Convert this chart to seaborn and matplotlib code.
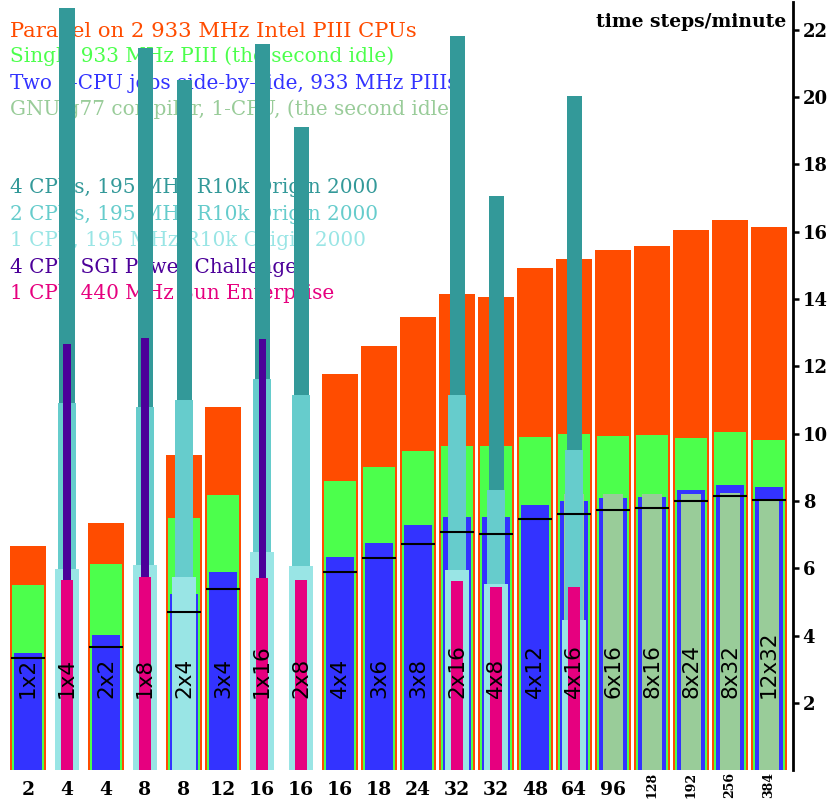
import numpy as np
import pandas as pd
import matplotlib
matplotlib.use("Agg")
import matplotlib.pyplot as plt
import seaborn as sns

nan = np.nan

# ---- data -------------------------------------------------------------
procs = ["2", "4", "4", "8", "8", "12", "16", "16", "16", "18",
         "24", "32", "32", "48", "64", "96", "128", "192", "256", "384"]
grids = ["1x2", "1x4", "2x2", "1x8", "2x4", "3x4", "1x16", "2x8", "4x4", "3x6",
         "3x8", "2x16", "4x8", "4x12", "4x16", "6x16", "8x16", "8x24", "8x32", "12x32"]

piii_parallel = [6.65, nan, 7.33, nan, 9.38, 10.80, nan, nan, 11.78, 12.61,
                 13.47, 14.15, 14.06, 14.92, 15.19, 15.45, 15.57, 16.04, 16.36, 16.13]
piii_single = [5.50, nan, 6.12, nan, 7.48, 8.19, nan, nan, 8.58, 9.02,
               9.47, 9.64, 9.64, 9.91, 10.00, 9.94, 9.97, 9.88, 10.06, 9.82]
piii_two_jobs = [3.48, nan, 4.01, nan, 5.23, 5.88, nan, nan, 6.33, 6.74,
                 7.27, 7.51, 7.51, 7.87, 8.01, 8.10, 8.13, 8.31, 8.46, 8.40]
g77_single = [nan, nan, nan, nan, nan, nan, nan, nan, nan, nan,
              nan, nan, nan, nan, 8.20, 8.20, 8.20, 8.22, 8.25, 7.99]
origin_4cpu = [nan, 22.66, nan, 21.47, 20.52, nan, 21.59, 19.10, nan, nan,
               nan, 21.83, 17.05, nan, 20.05, nan, nan, nan, nan, nan]
origin_2cpu = [nan, 10.92, nan, 10.80, 11.00, nan, 11.63, 11.16, nan, nan,
               nan, 11.16, 8.31, nan, 9.50, nan, nan, nan, nan, nan]
origin_1cpu = [nan, 5.97, nan, 6.09, 5.73, nan, 6.47, 6.06, nan, nan,
               nan, 5.94, 5.53, nan, 4.46, nan, nan, nan, nan, nan]
sgi_power = [nan, 12.67, nan, 12.84, nan, nan, 12.81, nan, nan, nan,
             nan, nan, nan, nan, nan, nan, nan, nan, nan, nan]
sun_1cpu = [nan, 5.64, nan, 5.73, nan, nan, 5.70, 5.64, nan, nan,
            nan, 5.62, 5.44, nan, 5.44, nan, nan, nan, nan, nan]
reference_marks = [3.33, nan, 3.66, nan, 4.70, 5.38, nan, nan, 5.88, 6.30,
                   6.71, 7.07, 7.01, 7.45, 7.60, 7.72, 7.78, 8.01, 8.16, 8.04]

legend_labels = ["Parallel on 2 933 MHz Intel PIII CPUs",
                 "Single 933 MHz PIII (the second idle)",
                 "Two 1-CPU jobs side-by-side, 933 MHz PIIIs",
                 "GNU g77 compiler, 1-CPU, (the second idle)",
                 "4 CPUs, 195 MHz R10k Origin 2000",
                 "2 CPUs, 195 MHz R10k Origin 2000",
                 "1 CPU, 195 MHz R10k Origin 2000",
                 "4 CPU SGI Power Challenge",
                 "1 CPU 440 MHz Sun Enterprise"]
y_ticks = [2, 4, 6, 8, 10, 12, 14, 16, 18, 20, 22]
y_title = "time steps/minute"

# ---- style ------------------------------------------------------------
c_orange = "#FF4C00"
c_green = "#4CFF4C"
c_blue = "#3333FF"
c_g77 = "#99CC99"
c_teal = "#339999"
c_cyan = "#66CCCC"
c_lcyan = "#99E5E5"
c_purple = "#4C0099"
c_magenta = "#E6007F"

sns.set_style("white")
plt.rcParams["text.color"] = "black"
plt.rcParams["ytick.color"] = "black"
plt.rcParams["ytick.labelcolor"] = "black"

fig = plt.figure(figsize=(8.31, 7.99), dpi=100)
ax = fig.add_axes([0.0, 0.0362, 0.9543, 0.9613])

pos = list(range(len(grids)))
layers = [
    (piii_parallel, c_orange, 0.923),
    (piii_single, c_green, 0.82),
    (piii_two_jobs, c_blue, 0.718),
    (g77_single, c_g77, 0.513),
    (origin_4cpu, c_teal, 0.385),
    (origin_2cpu, c_cyan, 0.46),
    (origin_1cpu, c_lcyan, 0.615),
    (sgi_power, c_purple, 0.18),
    (sun_1cpu, c_magenta, 0.308),
]
for vals, col, w in layers:
    df = pd.DataFrame({"pos": pos, "val": vals})
    sns.barplot(data=df, x="pos", y="val", order=pos, color=col, width=w,
                saturation=1, errorbar=None, linewidth=0, ax=ax)

# black reference marks
mk = pd.DataFrame({"pos": pos, "val": reference_marks}).dropna()
ax.hlines(mk["val"], mk["pos"] - 0.425, mk["pos"] + 0.425, color="black",
          lw=1.5, zorder=5)

# labels inside bars
for i, g in enumerate(grids):
    ax.text(i, 2.14, g, rotation=90, rotation_mode="anchor", ha="left",
            va="center", fontsize=15.5, family="DejaVu Sans", color="black",
            zorder=6)

# bottom category labels
xt = ax.get_xaxis_transform()
for i, p in enumerate(procs):
    if len(p) > 2:
        ax.text(i, -0.002, p, transform=xt, rotation=90, ha="center", va="top",
                fontsize=9, family="DejaVu Serif", fontweight="bold",
                color="black", clip_on=False)
    else:
        ax.text(i, -0.0324, p, transform=xt, ha="center", va="baseline",
                fontsize=13.5, family="DejaVu Serif", fontweight="bold",
                color="black", clip_on=False)

# legend text (behind bars)
colors = [c_orange, c_green, c_blue, c_g77, c_teal, c_cyan, c_lcyan, c_purple, c_magenta]
baselines = [37, 62, 89, 115, 193, 220, 246, 273, 299]
for k, (lab, col, b) in enumerate(zip(legend_labels, colors, baselines)):
    ax.text(9.5 / 831, 1 - b / 799, lab, transform=fig.transFigure,
            color=col, fontsize=15.2 if k == 0 else 14.4, family="DejaVu Serif",
            ha="left", va="baseline", zorder=0.5)

ax.text(786 / 831, 1 - 27 / 799, y_title, transform=fig.transFigure,
        ha="right", va="baseline", fontsize=13.5, family="DejaVu Serif",
        fontweight="bold", color="black", zorder=0.5)

# axes
ax.set_xlim(-0.718, 19.615)
ax.set_ylim(0, 22.83)
ax.set_xlabel("")
ax.set_ylabel("")
ax.set_xticks([])
ax.yaxis.tick_right()
ax.set_yticks(y_ticks, [str(t) for t in y_ticks], fontsize=13,
              family="DejaVu Serif", fontweight="bold", color="black")
ax.tick_params(axis="y", direction="out", length=4, width=1.8, pad=3,
               color="black", labelcolor="black")
for s in ["left", "top", "bottom"]:
    ax.spines[s].set_visible(False)
ax.spines["right"].set_visible(True)
ax.spines["right"].set_color("black")
ax.spines["right"].set_linewidth(2)
ax.grid(False)

fig.savefig("out.png", dpi=100)
